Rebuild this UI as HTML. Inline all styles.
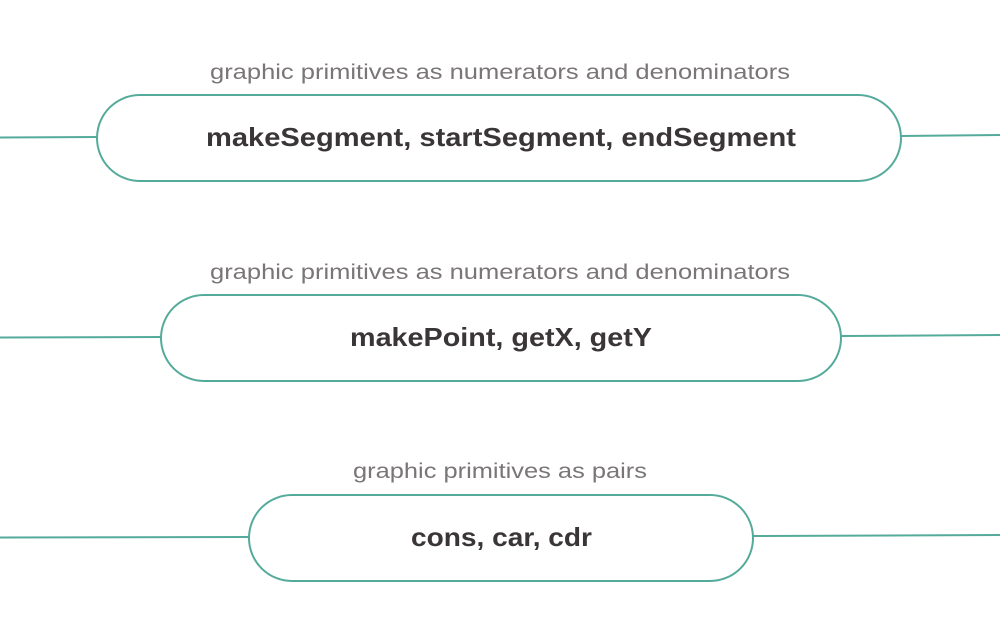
<!DOCTYPE html>
<html><head><meta charset="utf-8"><style>
html,body{margin:0;padding:0;background:#fff;}
svg{display:block;}
.t{font-family:"Liberation Sans",sans-serif;font-weight:bold;font-size:26px;fill:#3a3536;}
.l{font-family:"Liberation Sans",sans-serif;font-size:21px;fill:#7a7577;}
</style></head><body>
<svg width="1000" height="642" viewBox="0 0 1000 642" xmlns="http://www.w3.org/2000/svg">
<g fill="none" stroke="#55ab9b" stroke-width="2">
<line x1="0" y1="137.5" x2="97" y2="137"/>
<line x1="901" y1="136" x2="1000" y2="135"/>
<rect x="97" y="95" width="804" height="86" rx="43" ry="43" fill="#fff"/>
<line x1="0" y1="337.5" x2="161" y2="337"/>
<line x1="841" y1="336" x2="1000" y2="335"/>
<rect x="161" y="295" width="680" height="86" rx="43" ry="43" fill="#fff"/>
<line x1="0" y1="537.5" x2="249" y2="537"/>
<line x1="753" y1="536" x2="1000" y2="535"/>
<rect x="249" y="495" width="504" height="86" rx="43" ry="43" fill="#fff"/>
</g>
<text class="l" x="210" y="79" textLength="580" lengthAdjust="spacingAndGlyphs">graphic primitives as numerators and denominators</text>
<text class="t" x="206" y="146" textLength="590" lengthAdjust="spacingAndGlyphs">makeSegment, startSegment, endSegment</text>
<text class="l" x="210" y="279" textLength="580" lengthAdjust="spacingAndGlyphs">graphic primitives as numerators and denominators</text>
<text class="t" x="350" y="346" textLength="302" lengthAdjust="spacingAndGlyphs">makePoint, getX, getY</text>
<text class="l" x="353" y="478" textLength="294" lengthAdjust="spacingAndGlyphs">graphic primitives as pairs</text>
<text class="t" x="411" y="546" textLength="181" lengthAdjust="spacingAndGlyphs">cons, car, cdr</text>
</svg>
</body></html>
